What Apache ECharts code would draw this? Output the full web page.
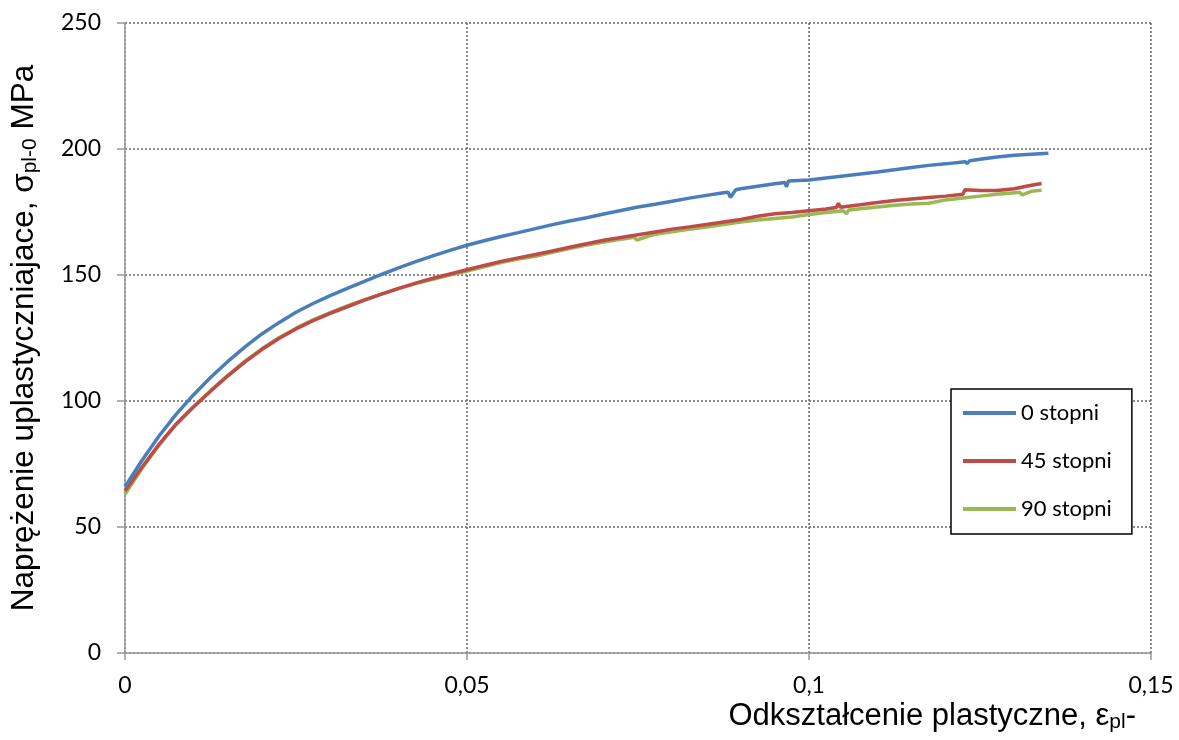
<!DOCTYPE html>
<html>
<head>
<meta charset="utf-8">
<script src="https://cdn.jsdelivr.net/npm/echarts@6/dist/echarts.min.js"></script>
<style>html,body{margin:0;padding:0;background:#fff}#c{width:1179px;height:740px}</style>
</head>
<body>
<div id="c"></div>
<script>
var seriesNames = ['0 stopni', '45 stopni', '90 stopni'];
var xTicks = ['0', '0,05', '0,1', '0,15'];

var eps0 = [0, 0.0025, 0.005, 0.0075, 0.01, 0.0125, 0.015, 0.0175, 0.02, 0.0225, 0.025, 0.0275, 0.03, 0.0325, 0.035, 0.0375, 0.04, 0.0425, 0.045, 0.0475, 0.05, 0.0525, 0.055, 0.0575, 0.06, 0.0625, 0.065, 0.0675, 0.07, 0.0725, 0.075, 0.0775, 0.08, 0.0825, 0.085, 0.0875, 0.0882, 0.0885, 0.0893, 0.09, 0.0925, 0.095, 0.0965, 0.0967, 0.097, 0.1, 0.1025, 0.105, 0.1075, 0.11, 0.1125, 0.115, 0.1175, 0.12, 0.1225, 0.1228, 0.1231, 0.1235, 0.125, 0.1275, 0.13, 0.1325, 0.135];
var sig0 = [66, 76.5, 86.2, 94.8, 102.4, 109.3, 115.6, 121.4, 126.6, 131.1, 135.2, 138.7, 141.8, 144.7, 147.5, 150.2, 152.8, 155.3, 157.6, 159.8, 161.8, 163.6, 165.3, 166.8, 168.4, 170, 171.4, 172.7, 174.2, 175.6, 177, 178.1, 179.3, 180.5, 181.6, 182.6, 182.8, 180.8, 183.8, 184.2, 185.2, 186.2, 186.7, 185, 187.3, 187.7, 188.5, 189.3, 190.1, 190.9, 191.8, 192.7, 193.5, 194.1, 194.8, 195.1, 194.2, 195.3, 195.9, 196.8, 197.5, 197.9, 198.3];

var eps45 = [0, 0.0025, 0.005, 0.0075, 0.01, 0.0125, 0.015, 0.0175, 0.02, 0.0225, 0.025, 0.0275, 0.03, 0.0325, 0.035, 0.0375, 0.04, 0.0425, 0.045, 0.0475, 0.05, 0.0525, 0.055, 0.0575, 0.06, 0.0625, 0.065, 0.0675, 0.07, 0.0725, 0.075, 0.0775, 0.08, 0.0825, 0.085, 0.0875, 0.09, 0.0925, 0.095, 0.0975, 0.1, 0.1025, 0.104, 0.1043, 0.1046, 0.1075, 0.11, 0.1125, 0.115, 0.1175, 0.12, 0.1225, 0.1228, 0.125, 0.1275, 0.13, 0.1325, 0.134];
var sig45 = [64.3, 73.8, 82.9, 90.9, 97.6, 103.9, 109.9, 115.4, 120.4, 124.8, 128.6, 131.9, 134.8, 137.4, 140, 142.4, 144.7, 146.8, 148.7, 150.4, 152.1, 153.8, 155.4, 156.8, 158.1, 159.5, 161, 162.4, 163.8, 164.9, 166, 167.1, 168.2, 169.1, 170, 171, 172, 173.3, 174.3, 174.8, 175.5, 176.2, 176.8, 178.5, 176.9, 177.9, 178.8, 179.6, 180.2, 180.8, 181.3, 182, 183.8, 183.5, 183.5, 184.2, 185.6, 186.3];

var eps90 = [0, 0.0025, 0.005, 0.0075, 0.01, 0.0125, 0.015, 0.0175, 0.02, 0.0225, 0.025, 0.0275, 0.03, 0.0325, 0.035, 0.0375, 0.04, 0.0425, 0.045, 0.0475, 0.05, 0.0525, 0.055, 0.0575, 0.06, 0.0625, 0.065, 0.0675, 0.07, 0.0725, 0.0745, 0.0748, 0.0775, 0.08, 0.0825, 0.085, 0.0875, 0.09, 0.0925, 0.095, 0.0975, 0.1, 0.1025, 0.105, 0.1055, 0.1058, 0.1075, 0.11, 0.1125, 0.115, 0.1175, 0.12, 0.1225, 0.125, 0.1275, 0.13, 0.1308, 0.1312, 0.1325, 0.134];
var sig90 = [63, 73.3, 82.6, 90.8, 97.6, 104, 110.1, 115.7, 120.7, 125.1, 128.9, 132.2, 135.1, 137.7, 140.1, 142.4, 144.6, 146.6, 148.3, 150, 151.6, 153.3, 154.9, 156.3, 157.4, 159, 160.5, 161.9, 163.1, 164.2, 165, 163.9, 166.2, 167.2, 168.1, 169, 170, 171, 171.8, 172.4, 173, 174, 174.8, 175.5, 174.3, 175.8, 176.3, 177, 177.7, 178.2, 178.5, 179.8, 180.6, 181.3, 182, 182.6, 182.8, 181.8, 183.2, 183.6];

function pairs(xs, ys) { return xs.map(function (x, i) { return [x, ys[i]]; }); }

var colors = ['#4a7ebb', '#be4b48', '#98b954'];
var datasets = [pairs(eps0, sig0), pairs(eps45, sig45), pairs(eps90, sig90)];

var chart = echarts.init(document.getElementById('c'), null, {renderer: 'canvas'});
var tickFont = 'Lato, "Open Sans", sans-serif';
var titleFont = '"Liberation Sans", Arial, sans-serif';

chart.setOption({
  animation: false,
  backgroundColor: '#ffffff',
  grid: {left: 125, right: 28, top: 23, bottom: 87, containLabel: false, outerBoundsMode: 'none'},
  legend: {
    orient: 'vertical',
    left: 951, top: 389,
    data: seriesNames,
    icon: 'rect',
    itemWidth: 53, itemHeight: 4,
    itemGap: 24,
    padding: [12, 20, 13, 12],
    borderColor: '#000', borderWidth: 1.5,
    backgroundColor: '#fff',
    textStyle: {fontFamily: tickFont, fontSize: 22, color: '#000', lineHeight: 24}
  },
  xAxis: {
    type: 'value', min: 0, max: 0.15, interval: 0.05,
    axisLine: {show: true, lineStyle: {color: '#999', width: 1.5}},
    axisTick: {show: true, length: 7, lineStyle: {color: '#999', width: 1.5}},
    axisLabel: {margin: 21, fontFamily: tickFont, fontSize: 23, color: '#000',
      formatter: function (v) { var i = Math.round(v / 0.05); return xTicks[i]; }},
    splitLine: {show: true, lineStyle: {color: '#666', type: [2, 2], width: 1.5}},
    name: '{n|Odkształcenie plastyczne, ε}{s|pl}{n|-}',
    nameLocation: 'end', nameGap: -15,
    nameTextStyle: {align: 'right', verticalAlign: 'top', padding: [46, 0, 0, 0],
      rich: {n: {fontFamily: titleFont, fontSize: 31, color: '#000'},
             s: {fontFamily: titleFont, fontSize: 21, color: '#000', padding: [13, 0, 0, 0]}}}
  },
  yAxis: {
    type: 'value', min: 0, max: 250, interval: 50,
    axisLine: {show: true, lineStyle: {color: '#999', width: 1.5}},
    axisTick: {show: true, length: 8, lineStyle: {color: '#999', width: 1.5}},
    axisLabel: {margin: 24, fontFamily: tickFont, fontSize: 23, color: '#000'},
    splitLine: {show: true, lineStyle: {color: '#666', type: [2, 2], width: 1.5}},
    name: '{n|Naprężenie uplastyczniajace, σ}{s|pl-0}{n| MPa}',
    nameLocation: 'middle', nameGap: 84, nameRotate: 90,
    nameTextStyle: {rich: {n: {fontFamily: titleFont, fontSize: 31.5, color: '#000'},
             s: {fontFamily: titleFont, fontSize: 21, color: '#000', padding: [13, 0, 0, 0]}}}
  },
  series: seriesNames.map(function (nm, i) {
    return {
      name: nm, type: 'line', data: datasets[i], smooth: false,
      showSymbol: false, symbol: 'none',
      lineStyle: {color: colors[i], width: 3.5},
      itemStyle: {color: colors[i]},
      z: 3 - i + 2
    };
  })
});
</script>
</body>
</html>
